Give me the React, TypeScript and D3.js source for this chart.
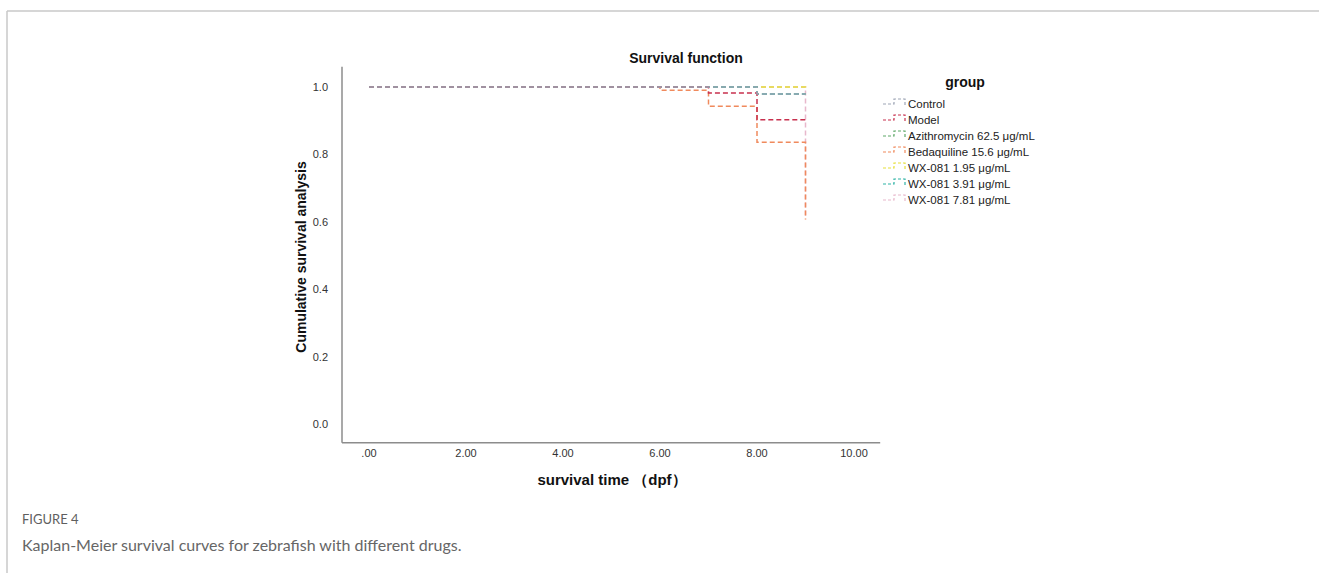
import React from "react";
import * as d3 from "d3";

// ---- data ----
const groups = [
  "Control",
  "Model",
  "Azithromycin 62.5 μg/mL",
  "Bedaquiline 15.6 μg/mL",
  "WX-081 1.95 μg/mL",
  "WX-081 3.91 μg/mL",
  "WX-081 7.81 μg/mL",
];
const colors = ["#9ea6b6", "#c8304e", "#5fa868", "#f08a5d", "#e6e03a", "#2fb3a6", "#e8b8cc"];

// step points: [time, survival]
const controlPts: [number, number][] = [[0, 1], [8, 0.979], [9, 0.979]];
const modelPts: [number, number][] = [[0, 1], [7, 0.982], [8, 0.903], [9, 0.903]];
const azithroPts: [number, number][] = [[0, 1], [8, 0.979], [9, 0.979]];
const bedaPts: [number, number][] = [[0, 1], [6, 0.99], [7, 0.943], [8, 0.836], [9, 0.607]];
const wx195Pts: [number, number][] = [[0, 1], [9, 0.997]];
const wx391Pts: [number, number][] = [[0, 1], [8, 0.979], [9, 0.979]];
const wx781Pts: [number, number][] = [[0, 1], [9, 0.61]];
const seriesPts = [controlPts, modelPts, azithroPts, bedaPts, wx195Pts, wx391Pts, wx781Pts];

const xTicks = [0, 2, 4, 6, 8, 10];
const xTickLabels = [".00", "2.00", "4.00", "6.00", "8.00", "10.00"];
const yTicks = [0, 0.2, 0.4, 0.6, 0.8, 1.0];

export default function App() {
  const W = 1319, H = 573;
  const x = d3.scaleLinear().domain([0, 10]).range([369, 854]);
  const y = d3.scaleLinear().domain([0, 1]).range([424, 87]);
  const line = d3.line<[number, number]>().x(d => x(d[0])).y(d => y(d[1])).curve(d3.curveStepAfter);

  const axisColor = "#8c8c8c";
  const font = "'Liberation Sans', Arial, sans-serif";
  // draw order: later ones on top (Control last, so the shared top line looks grey)
  const order = [6, 3, 4, 2, 5, 1, 0];

  return (
    <svg width={W} height={H} style={{ position: "absolute", left: 0, top: 0, background: "#fff" }}>
      {/* figure frame */}
      <line x1={7} y1={11} x2={1319} y2={11} stroke="#c8c8c8" strokeWidth={1.5} />
      <line x1={7} y1={11} x2={7} y2={573} stroke="#c8c8c8" strokeWidth={1.5} />

      {/* title */}
      <text x={686} y={63} textAnchor="middle" fontFamily={font} fontSize={14} fontWeight="bold" fill="#111">
        Survival function
      </text>

      {/* axes */}
      <line x1={342} y1={y(1.06)} x2={342} y2={y(-0.056)} stroke={axisColor} strokeWidth={1.5} />
      <line x1={342} y1={y(-0.056)} x2={x(10.54)} y2={y(-0.056)} stroke={axisColor} strokeWidth={1.5} />

      {yTicks.map(t => (
        <text key={t} x={328} y={y(t) + 4} textAnchor="end" fontFamily={font} fontSize={11} fill="#333">
          {t.toFixed(1)}
        </text>
      ))}
      {xTicks.map((t, i) => (
        <text key={t} x={x(t)} y={457} textAnchor="middle" fontFamily={font} fontSize={11} fill="#333">
          {xTickLabels[i]}
        </text>
      ))}

      <text x={612} y={485} textAnchor="middle" fontFamily={font} fontSize={15} fontWeight="bold" fill="#111">
        survival time （dpf）
      </text>
      <text
        transform={`translate(306,257) rotate(-90)`}
        textAnchor="middle"
        fontFamily={font}
        fontSize={14}
        fontWeight="bold"
        fill="#111"
      >
        Cumulative survival analysis
      </text>

      {/* curves */}
      {order.map(i => (
        <path
          key={groups[i]}
          d={line(seriesPts[i]) || ""}
          fill="none"
          stroke={colors[i]}
          strokeWidth={1.5}
          strokeDasharray="5,3"
        />
      ))}

      {/* legend */}
      <text x={965} y={87} textAnchor="middle" fontFamily={font} fontSize={14} fontWeight="bold" fill="#111">
        group
      </text>
      {groups.map((g, i) => {
        const ly = 104 + i * 16;
        return (
          <g key={g}>
            <path
              d={`M883,${ly} L894,${ly} L894,${ly - 5} L905,${ly - 5} L905,${ly + 3}`}
              fill="none"
              stroke={colors[i]}
              strokeWidth={1.2}
              strokeDasharray="3,2"
            />
            <text x={908} y={ly + 4} fontFamily={font} fontSize={11.5} fill="#222">
              {g}
            </text>
          </g>
        );
      })}

      {/* caption */}
      <text x={22} y={524} fontFamily="Lato, 'Open Sans', sans-serif" fontSize={13} fill="#5f5f5f">
        FIGURE 4
      </text>
      <text x={22} y={551} fontFamily="Lato, 'Open Sans', sans-serif" fontSize={16} fill="#666">
        Kaplan-Meier survival curves for zebrafish with different drugs.
      </text>
    </svg>
  );
}
